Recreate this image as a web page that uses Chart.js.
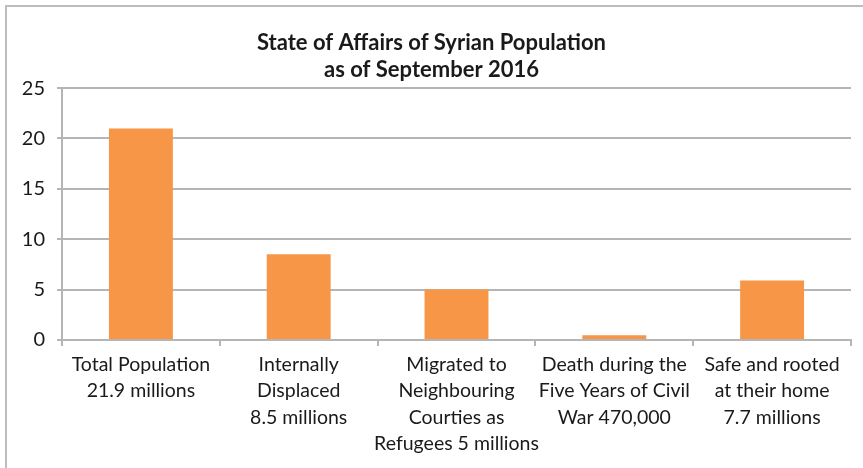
<!DOCTYPE html>
<html>
<head>
<meta charset="utf-8">
<script src="https://cdn.jsdelivr.net/npm/chart.js@4/dist/chart.umd.min.js"></script>
<style>
  html, body { margin: 0; padding: 0; background: #fff; }
  #wrap { position: relative; width: 863px; height: 468px; overflow: hidden; }
  #frame { position: absolute; left: 5px; top: 5px; width: 900px; height: 500px; border: 2px solid #bdbdbd; }
  #chart { position: absolute; left: 0; top: 0; }
</style>
</head>
<body>
<div id="wrap">
  <div id="frame"></div>
  <canvas id="chart" width="863" height="468"></canvas>
</div>
<script>
var titleLines = ['State of Affairs of Syrian Population', 'as of September 2016']

var categories = [
  ['Total Population', '21.9 millions'],
  ['Internally', 'Displaced', '8.5 millions'],
  ['Migrated to', 'Neighbouring', 'Courties as', 'Refugees 5 millions'],
  ['Death during the', 'Five Years of Civil', 'War 470,000'],
  ['Safe and rooted', 'at their home', '7.7 millions']
]

// bar heights in millions as plotted
var values = [21, 8.5, 5, 0.47, 5.9]

var yTicks = { min: 0, max: 25, step: 5 }

var fontFamily = 'Lato, "Open Sans", sans-serif'
var gridColor = '#b5b5b5'
var barColor = '#f79646'
var textColor = '#1a1a1a'

var chart = new Chart(document.getElementById('chart'), {
  type: 'bar',
  data: {
    labels: categories,
    datasets: [{
      data: values,
      backgroundColor: barColor,
      barPercentage: 0.405,
      categoryPercentage: 1
    }]
  },
  options: {
    responsive: false,
    animation: false,
    // equal side padding keeps the title centred on the canvas
    layout: { padding: { left: 12, right: 12, top: 0, bottom: 0 } },
    plugins: {
      legend: { display: false },
      tooltip: { enabled: false },
      title: {
        display: true,
        text: titleLines,
        color: textColor,
        font: { family: fontFamily, size: 22, weight: 'bold', lineHeight: 1.23 },
        padding: { top: 29, bottom: 5 }
      }
    },
    scales: {
      x: {
        afterFit: function (scale) { scale.height = 128 },
        border: { color: gridColor, width: 2 },
        grid: { display: true, drawOnChartArea: false, color: gridColor, lineWidth: 2, tickLength: 6, offset: true },
        ticks: {
          color: textColor,
          padding: 5,
          maxRotation: 0,
          autoSkip: false,
          font: { family: fontFamily, size: 19.5, lineHeight: 1.36 }
        }
      },
      y: {
        min: yTicks.min,
        max: yTicks.max,
        afterFit: function (scale) { scale.width = 50 },
        border: { color: gridColor, width: 2 },
        grid: { color: gridColor, lineWidth: 2, tickLength: 5 },
        ticks: {
          stepSize: yTicks.step,
          color: textColor,
          padding: 12,
          font: { family: fontFamily, size: 20 }
        }
      }
    }
  }
})
</script>
</body>
</html>
